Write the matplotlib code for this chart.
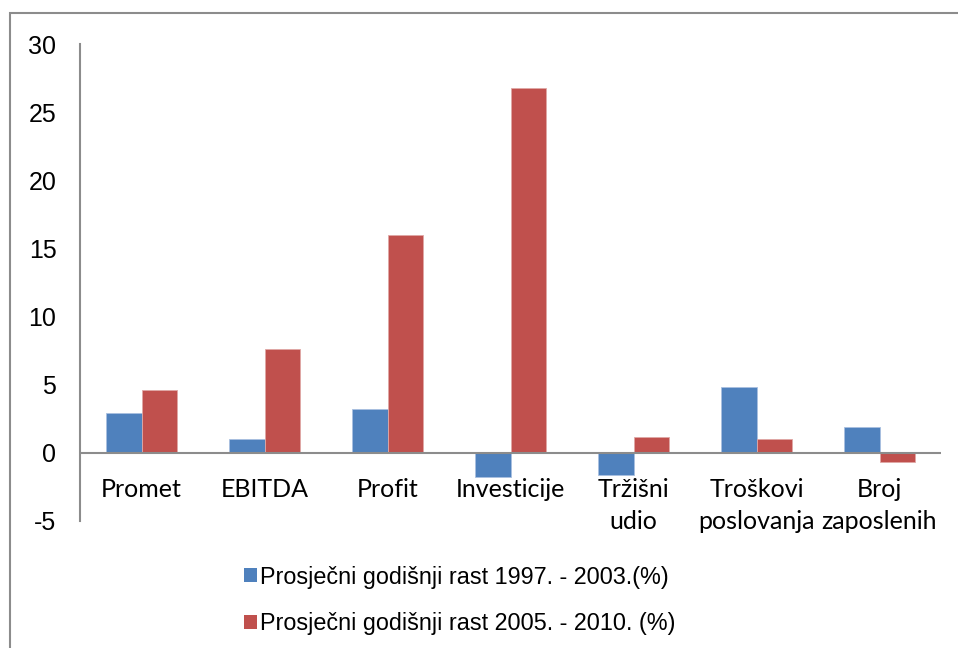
import matplotlib.pyplot as plt
import numpy as np
from matplotlib.patches import Rectangle, Patch

plt.rcParams['axes.unicode_minus'] = False

# ----------------------- Data ------------------------------------------------
categories = ["Promet", "EBITDA", "Profit", "Investicije", "Tržišni\nudio",
              "Troškovi\nposlovanja", "Broj\nzaposlenih"]
rast_1997_2003 = [2.9, 1.0, 3.2, -1.8, -1.6, 4.8, 1.9]
rast_2005_2010 = [4.6, 7.6, 16.0, 26.8, 1.2, 1.0, -0.7]
series_labels = ["Prosječni godišnji rast 1997. - 2003.(%)",
                 "Prosječni godišnji rast 2005. - 2010. (%)"]
y_ticks = [-5, 0, 5, 10, 15, 20, 25, 30]

BLUE = "#4F81BD"
RED = "#C0504D"
GRAY = "#8C8C8C"

fig = plt.figure(figsize=(9.58, 6.48), dpi=100)

# outer chart border (cropped at right/bottom like the original)
fig.patches.append(Rectangle((10 / 958, -0.1), 1.2, 1 - 13 / 648 + 0.1,
                             transform=fig.transFigure, fill=False,
                             edgecolor=GRAY, linewidth=1.5))

ax = fig.add_axes([80 / 958, 1 - 521 / 648, (941 - 80) / 958, (521 - 44) / 648])

x = np.arange(len(categories))
w = 0.285
ax.bar(x - w / 2, rast_1997_2003, w, color=BLUE, edgecolor="#A9C0E0", linewidth=0.6)
ax.bar(x + w / 2, rast_2005_2010, w, color=RED, edgecolor="#E0A8A6", linewidth=0.6)

ax.set_xlim(-0.5, len(categories) - 0.5)
ax.set_ylim(-5, 30)
ax.set_yticks(y_ticks)
ax.set_yticklabels([str(t) for t in y_ticks], fontsize=18, family="Liberation Sans")
ax.tick_params(axis="y", length=0, pad=17)
ax.set_xticks([])

for s in ["top", "right", "bottom"]:
    ax.spines[s].set_visible(False)
ax.spines["left"].set_color(GRAY)
ax.spines["left"].set_linewidth(1.5)
ax.axhline(0, color=GRAY, linewidth=1.5, zorder=3)

# category labels just below the zero line
for xi, lab in zip(x, categories):
    ax.annotate(lab, (xi, 0), xytext=(0, -18), textcoords="offset points",
                ha="center", va="top", fontsize=18, family="Lato",
                linespacing=1.5)

handles = [Patch(facecolor=BLUE), Patch(facecolor=RED)]
fig.legend(handles, series_labels, loc="upper left",
           bbox_to_anchor=(232 / 958, 1 - 554 / 648), frameon=False,
           prop={"family": "Liberation Sans", "size": 16.8},
           handlelength=0.55, handleheight=0.55, handletextpad=0.15,
           labelspacing=1.0, borderpad=0)

fig.savefig("out.png", dpi=100)
